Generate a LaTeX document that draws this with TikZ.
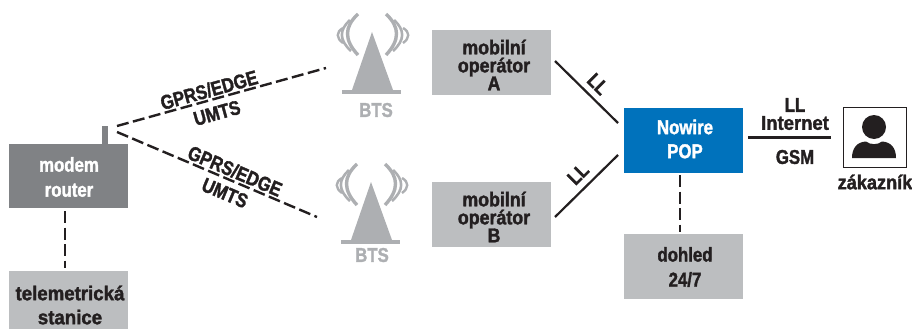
\documentclass[tikz,border=0pt]{standalone}
\usepackage{fontspec}
\setmainfont{Liberation Sans}[FakeStretch=0.84,BoldFont={Liberation Sans Bold},BoldFeatures={FakeBold=1.6}]
\definecolor{ink}{HTML}{231F20}
\definecolor{lightbox}{HTML}{BCBEC0}
\definecolor{darkbox}{HTML}{808285}
\definecolor{bluebox}{HTML}{0072BC}
\definecolor{btsgray}{HTML}{ADAFB2}
\tikzset{
  x=1pt,y=-1pt,
  lab/.style={font=\bfseries\fontsize{20}{18}\selectfont,text=ink,inner sep=0pt,align=center},
  wlab/.style={lab,text=white},
  btslab/.style={lab,text=btsgray,font=\bfseries\fontsize{20}{18}\selectfont},
  box/.style={draw=none,anchor=north west,minimum width=119pt,inner sep=0pt,outer sep=0pt},
  dashline/.style={draw=ink,line width=2.4pt,dash pattern=on 12pt off 4.5pt},
  solidline/.style={draw=ink,line width=2.2pt},
  wave/.style={draw=btsgray,line cap=butt},
  pics/bts/.style={code={
    \fill[btsgray] (0,0) -- (21,58) -- (-20,58) -- cycle;
    \fill[btsgray] (-30,58) rectangle (29,62);
    \draw[wave,line width=3.4pt] (-14,-18) .. controls (-28,-5) and (-28,8) .. (-14,23);
    \draw[wave,line width=2.6pt] (-22,-12) .. controls (-33,-2) and (-33,8) .. (-21,19);
    \draw[wave,line width=2.4pt] (-29,-4) .. controls (-36,0) and (-36,6) .. (-29,11);
    \draw[wave,line width=3.4pt] (14,-18) .. controls (28,-5) and (28,8) .. (14,23);
    \draw[wave,line width=2.6pt] (22,-12) .. controls (33,-2) and (33,8) .. (21,19);
    \draw[wave,line width=2.4pt] (31,-4) .. controls (38,0) and (38,6) .. (31,11);
  }}
}
\begin{document}
\begin{tikzpicture}
\useasboundingbox (0,0) rectangle (912,329);
% boxes
\node[box,fill=darkbox,minimum height=64pt] (modem) at (9,144) {};
\node[wlab] (modemt) at (69,177) {modem\\[7pt]router};
\fill[darkbox] (102,126) rectangle (108,144);
\node[box,fill=lightbox,minimum height=58pt] (tele) at (9,271) {};
\node[lab,xscale=1.11] (telet) at (70,305) {telemetrická\\[6pt]stanice};
\node[box,fill=lightbox,minimum height=65pt] (opa) at (432,30) {};
\node[lab,xscale=1.06] (opat) at (494,65) {mobilní\\operátor\\A};
\node[box,fill=lightbox,minimum height=65pt] (opb) at (432,182) {};
\node[lab,xscale=1.06] (opbt) at (494,217) {mobilní\\operátor\\B};
\node[box,fill=bluebox,minimum height=65pt] (pop) at (624,108) {};
\node[wlab] (popt) at (685,139) {Nowire\\[6pt]POP};
\node[box,fill=lightbox,minimum height=65pt] (doh) at (624,234) {};
\node[lab] (doht) at (685,267) {dohled\\[7pt]24/7};
% BTS
\pic at (372,32) {bts};
\pic at (371,182) {bts};
\node[btslab] (btsa) at (376,110) {BTS};
\node[btslab] (btsb) at (372,255) {BTS};
% customer
\node[draw=ink,line width=1.4pt,anchor=north west,minimum width=63pt,minimum height=60pt,inner sep=0pt] (cust) at (842.5,106.5) {};
\fill[ink] (874,127) circle (12);
\fill[ink] (852,158) .. controls (852,148) and (857,142) .. (866,141.5)
  .. controls (870,145) and (878,145) .. (882,141.5)
  .. controls (891,142) and (896,148) .. (896,158) -- cycle;
\node[lab,xscale=1.08] (custt) at (875,182) {zákazník};
% connector ends
\coordinate (s1) at (117,126); \coordinate (e1) at (326,68);
\coordinate (s2) at (117,132); \coordinate (e2) at (317,217);
\coordinate (m1) at (65,211); \coordinate (m2) at (65,268);
\coordinate (p1) at (680,175); \coordinate (p2) at (680,232);
\coordinate (a1) at (555,61); \coordinate (a2) at (618,123);
\coordinate (b1) at (555,217); \coordinate (b2) at (618,155);
\coordinate (c1) at (748,137.5); \coordinate (c2) at (831,137.5);
\draw[dashline] (s1) -- (e1);
\draw[dashline] (s2) -- (e2);
\draw[dashline] (m1) -- (m2);
\draw[dashline] (p1) -- (p2);
\draw[solidline] (a1) -- (a2);
\draw[solidline] (b1) -- (b2);
\draw[solidline] (c1) -- (c2);
% connector labels
\node[lab,rotate=15.5] (g1) at (209,90) {GPRS/EDGE};
\node[lab,rotate=15.5] (u1) at (217,113) {UMTS};
\node[lab,rotate=-23] (g2) at (235,171) {GPRS/EDGE};
\node[lab,rotate=-23] (u2) at (225,193) {UMTS};
\node[lab,rotate=-45] (lla) at (598,84) {LL};
\node[lab,rotate=45] (llb) at (578,174) {LL};
\node[lab] (ll) at (795,105) {LL};
\node[lab,xscale=1.1] (inet) at (795,123) {Internet};
\node[lab] (gsm) at (795,157) {GSM};
\end{tikzpicture}
\end{document}
